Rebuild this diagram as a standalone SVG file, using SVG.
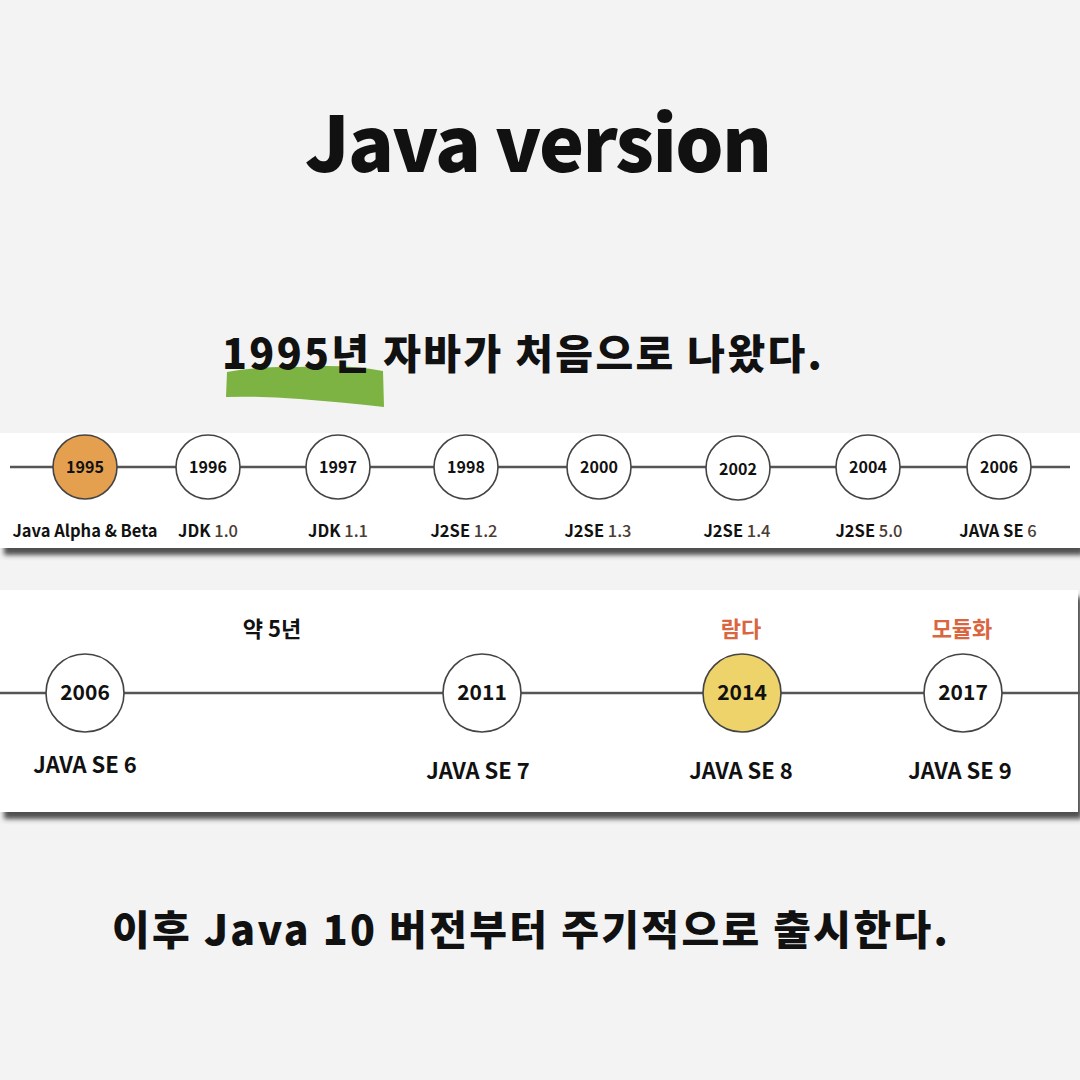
<svg xmlns="http://www.w3.org/2000/svg" width="1080" height="1080" viewBox="0 0 1080 1080">
<defs>
<style>
.t{font-family:"Noto Sans CJK KR","Noto Sans",sans-serif;fill:#111}
.title{font-size:76px;font-weight:900}
.sub{font-size:41px;font-weight:900}
.yr1{font-size:16px;font-weight:700;text-anchor:middle}
.lb1{font-size:16.5px;font-weight:700;text-anchor:middle}
.yr2{font-size:21px;font-weight:700;text-anchor:middle}
.lb2{font-size:22px;font-weight:700;text-anchor:middle}
.note{font-size:22px;font-weight:700;text-anchor:middle}
.red{fill:#d9663f}
.num{fill:#4a3c34;font-weight:500}
.line{stroke:#555;stroke-width:2.5}
.c{fill:#fff;stroke:#444;stroke-width:1.6}
</style>
<filter id="sh" x="-5%" y="-20%" width="110%" height="150%">
<feDropShadow dx="4" dy="7" stdDeviation="2.5" flood-color="#333" flood-opacity="0.85"/>
</filter>
</defs>
<rect width="1080" height="1080" fill="#f3f3f3"/>
<text class="t title" x="305" y="172" textLength="467" lengthAdjust="spacing">Java version</text>
<path d="M227 372 Q260 366 300 367 Q345 364 383 371 L384 407 Q340 402 300 399 Q260 396 226 397 Z" fill="#7cb342"/>
<text class="t sub" x="222" y="369" textLength="600" lengthAdjust="spacing">1995년 자바가 처음으로 나왔다.</text>

<rect x="0" y="433" width="1080" height="115" fill="#fff" filter="url(#sh)"/>
<rect x="0" y="590" width="1078" height="222" fill="#fff" filter="url(#sh)"/>

<g id="connectors">
<line class="line" x1="10" y1="467" x2="1070" y2="467"/>
<line class="line" x1="0" y1="693" x2="1080" y2="693"/>
</g>

<g id="n1995"><circle cx="85" cy="467" r="32" fill="#e5a04f" stroke="#444" stroke-width="1.6"/><text class="t yr1" x="85" y="473">1995</text><text class="t lb1" x="85" y="537">Java Alpha &amp; Beta</text></g>
<g id="n1996"><circle class="c" cx="208" cy="467" r="32"/><text class="t yr1" x="208" y="473">1996</text><text class="t lb1" x="208" y="537">JDK <tspan class="num">1.0</tspan></text></g>
<g id="n1997"><circle class="c" cx="338" cy="467" r="32"/><text class="t yr1" x="338" y="473">1997</text><text class="t lb1" x="338" y="537">JDK <tspan class="num">1.1</tspan></text></g>
<g id="n1998"><circle class="c" cx="466" cy="467" r="32"/><text class="t yr1" x="466" y="473">1998</text><text class="t lb1" x="464" y="537">J2SE <tspan class="num">1.2</tspan></text></g>
<g id="n2000"><circle class="c" cx="599" cy="467" r="32"/><text class="t yr1" x="599" y="473">2000</text><text class="t lb1" x="598" y="537">J2SE <tspan class="num">1.3</tspan></text></g>
<g id="n2002"><circle class="c" cx="738" cy="468" r="32"/><text class="t yr1" x="738" y="475">2002</text><text class="t lb1" x="737" y="537">J2SE <tspan class="num">1.4</tspan></text></g>
<g id="n2004"><circle class="c" cx="868" cy="467" r="32"/><text class="t yr1" x="868" y="473">2004</text><text class="t lb1" x="869" y="537">J2SE <tspan class="num">5.0</tspan></text></g>
<g id="n2006a"><circle class="c" cx="999" cy="467" r="32"/><text class="t yr1" x="999" y="473">2006</text><text class="t lb1" x="998" y="537">JAVA SE <tspan class="num">6</tspan></text></g>

<g id="n2006b"><circle class="c" cx="85" cy="693" r="39"/><text class="t yr2" x="85" y="700">2006</text><text class="t lb2" x="85" y="773">JAVA SE 6</text></g>
<g id="gap"><text class="t note" x="272" y="637">약 5년</text></g>
<g id="n2011"><circle class="c" cx="482" cy="693" r="39"/><text class="t yr2" x="482" y="700">2011</text><text class="t lb2" x="478" y="779">JAVA SE 7</text></g>
<g id="n2014"><circle cx="742" cy="693" r="39" fill="#eed36b" stroke="#444" stroke-width="1.6"/><text class="t yr2" x="742" y="700">2014</text><text class="t note red" x="741" y="637">람다</text><text class="t lb2" x="741" y="779">JAVA SE 8</text></g>
<g id="n2017"><circle class="c" cx="963" cy="693" r="39"/><text class="t yr2" x="963" y="700">2017</text><text class="t note red" x="962" y="637">모듈화</text><text class="t lb2" x="960" y="779">JAVA SE 9</text></g>

<text class="t sub" x="112" y="945" textLength="836" lengthAdjust="spacing">이후 Java 10 버전부터 주기적으로 출시한다.</text>
</svg>
